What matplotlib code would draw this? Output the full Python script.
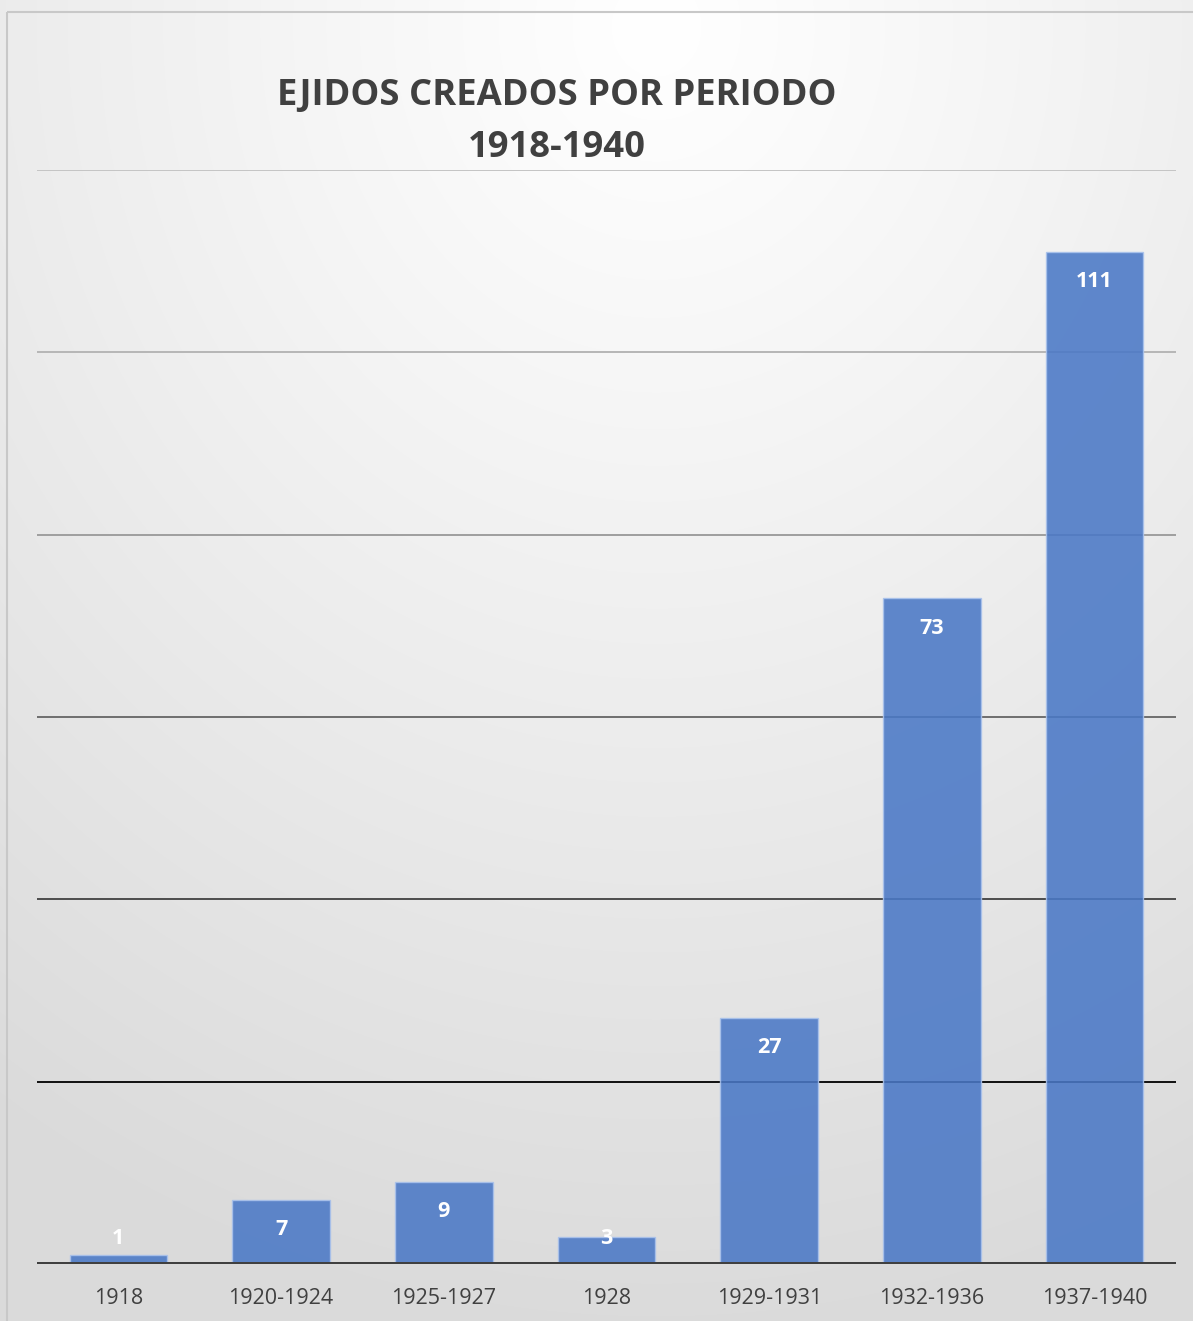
import numpy as np
import matplotlib
matplotlib.use("Agg")
import matplotlib.pyplot as plt
from matplotlib.patches import Rectangle

# Data
periods = ["1918", "1920-1924", "1925-1927", "1928", "1929-1931", "1932-1936", "1937-1940"]
ejidos = [1, 7, 9, 3, 27, 73, 111]
y_ticks = [0, 20, 40, 60, 80, 100, 120]
grid_colors = ["#404040", "#101010", "#4c4c4c", "#6e6e6e", "#9e9e9e", "#b6b6b6", "#c4c4c4"]

W, H, DPI = 1193, 1321, 100
fig = plt.figure(figsize=(W / DPI, H / DPI), dpi=DPI)
fig.patch.set_facecolor("white")

# Soft radial background: bright near the top, light grey toward the bottom
bg = fig.add_axes([0, 0, 1, 1], zorder=-10)
yy, xx = np.mgrid[0:H, 0:W]
cx, cy = 0.55 * W, 0.02 * H
d = np.sqrt(((xx - cx) / W) ** 2 + ((yy - cy) / H) ** 2)
d = np.clip(d, 0, 1)
shade = 1.0 - 0.145 * d ** 1.1
img = np.dstack([shade, shade, shade])
bg.imshow(img, extent=[0, W, H, 0], aspect="auto", interpolation="bilinear")
bg.set_xlim(0, W)
bg.set_ylim(H, 0)
bg.axis("off")
# Chart-area border
bg.add_patch(Rectangle((7, 12), W + 20, H + 20, fill=False, edgecolor="#c8c8c8", linewidth=1.5))

# Plot area in pixel terms: x 37..1176, y 170..1264
left, right = 37 / W, 1176 / W
top, bottom = 170 / H, 1264 / H
ax = fig.add_axes([left, 1 - bottom, right - left, bottom - top])
ax.set_facecolor("none")
x = np.arange(len(periods))
ax.set_xlim(-0.5, len(periods) - 0.5)
ax.set_ylim(0, 120)

for yv, col in zip(y_ticks, grid_colors):
    if yv == 0:
        continue
    ax.axhline(yv, color=col, linewidth=1.4, zorder=1)

ax.bar(x, ejidos, width=0.6, color="#4a78c6", alpha=0.88,
       edgecolor="#a9c2ec", linewidth=1.0, zorder=2)
ax.axhline(0, color="#404040", linewidth=3.6, zorder=3)

for xi, v in zip(x, ejidos):
    yl = max(v - 3.25, 2.8)
    ax.text(xi, yl, str(v), ha="center", va="center", color="white",
            fontsize=15.5, fontweight="bold", family="Open Sans", zorder=4)

for s in ax.spines.values():
    s.set_visible(False)
ax.set_yticks([])
ax.set_xticks(x)
ax.set_xticklabels(periods, fontsize=15.5, color="#404040", family="Open Sans")
ax.tick_params(axis="x", length=0, pad=17)

fig.text(557 / W, 1 - 96 / H, "EJIDOS CREADOS POR PERIODO", ha="center", va="center",
         fontsize=26.2, fontweight="bold", color="#404040", family="Open Sans")
fig.text(557 / W, 1 - 148 / H, "1918-1940", ha="center", va="center",
         fontsize=26.2, fontweight="bold", color="#404040", family="Open Sans")

fig.savefig("out.png", dpi=DPI)
